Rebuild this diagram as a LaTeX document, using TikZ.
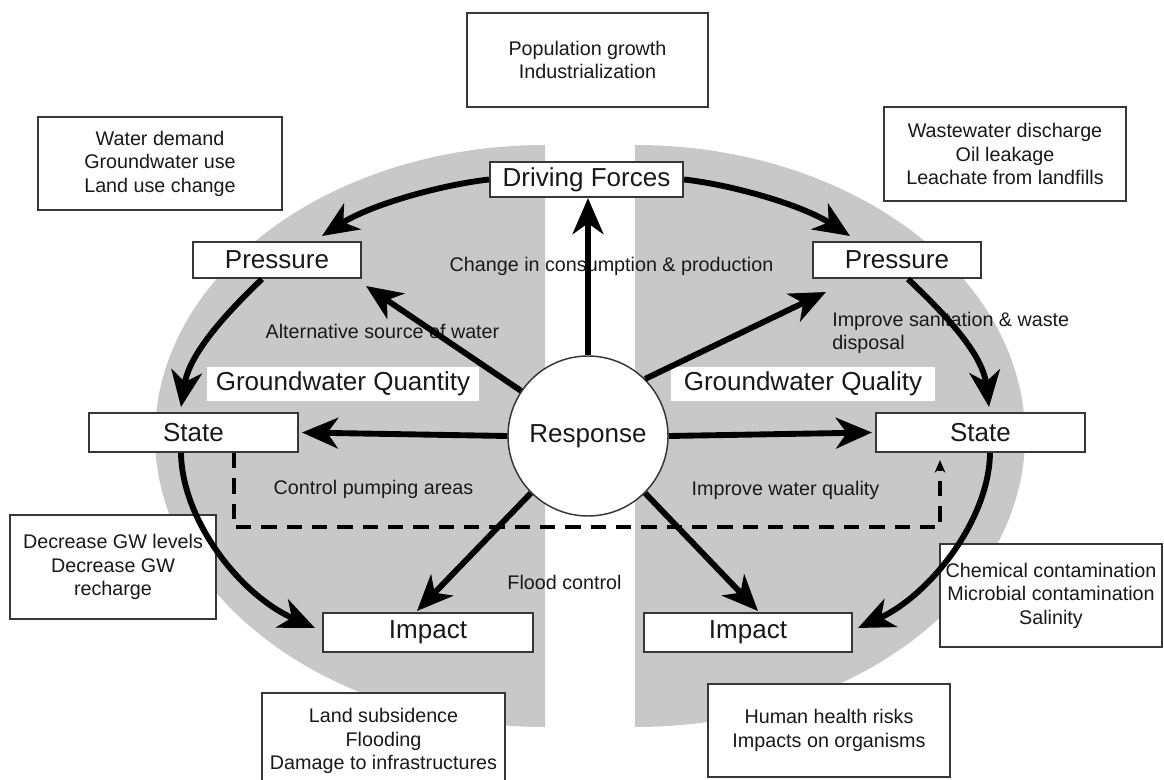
\documentclass[tikz,border=0pt]{standalone}
\usepackage{fontspec}
\setmainfont{Liberation Sans}
\usetikzlibrary{arrows.meta,calc}
\definecolor{halo}{RGB}{200,200,200}
\definecolor{edge}{RGB}{55,55,55}
\definecolor{ink}{RGB}{25,25,25}
\begin{document}
\begin{tikzpicture}[x=0.75pt,y=-0.75pt,
  stage/.style={draw=edge, line width=1.5pt, fill=white, text=ink,
    font=\fontsize{19.5}{23}\selectfont, inner sep=0pt},
  note/.style={draw=edge, line width=1.4pt, fill=white, text=ink, align=center,
    font=\fontsize{14.8}{17.6}\selectfont, inner sep=0pt},
  tag/.style={text=ink, font=\fontsize{14.8}{17.6}\selectfont, inner sep=0pt},
  heading/.style={fill=white, text=ink, font=\fontsize{19.5}{23}\selectfont, inner sep=0pt},
  flow/.style={draw=black, line width=4.4pt, -{Stealth[length=27pt,width=23pt,inset=8pt]}},
  dashflow/.style={draw=black, line width=2.8pt, dash pattern=on 11.5pt off 7.5pt,
    -{Stealth[length=9.5pt,width=8pt]}},
]
\useasboundingbox (0,0) rectangle (1164,780);
\clip (0,0) rectangle (1164,780);

% the two grey half-ellipses: quantity (left) and quality (right)
\fill[halo] (545,145) arc[start angle=270, end angle=90, x radius=390, y radius=291] -- cycle;
\fill[halo] (635,145) arc[start angle=-90, end angle=90, x radius=390, y radius=291] -- cycle;

% explanatory boxes
\node[note, minimum width=180.75pt, minimum height=70.5pt] (drivers) at (587.5,60) {Population growth\\Industrialization};
\node[note, minimum width=183pt, minimum height=69.75pt] (qtydrv) at (160,163.5) {Water demand\\Groundwater use\\Land use change};
\node[note, minimum width=181.5pt, minimum height=70.5pt] (qlydrv) at (1005,154) {Wastewater discharge\\Oil leakage\\Leachate from landfills};
\node[note, minimum width=154.5pt, minimum height=78pt] (qtystate) at (113,567) {Decrease GW levels\\Decrease GW\\recharge};
\node[note, minimum width=166.5pt, minimum height=77.25pt] (qlystate) at (1051,595.5) {Chemical contamination\\Microbial contamination\\Salinity};
\node[note, minimum width=182.25pt, minimum height=72pt] (qtyimp) at (383.5,741) {Land subsidence\\Flooding\\Damage to infrastructures};
\node[note, minimum width=181.5pt, minimum height=69.75pt] (qlyimp) at (829,730.5) {Human health risks\\Impacts on organisms};

% DPSIR stages
\node[stage, minimum width=144.75pt, minimum height=26.25pt] (df) at (586.5,179.5) {Driving Forces};
\node[stage, minimum width=126pt, minimum height=27pt] (pl) at (277,260) {Pressure};
\node[stage, minimum width=126pt, minimum height=27pt] (pr) at (897,260) {Pressure};
\node[stage, minimum width=156.75pt, minimum height=29.25pt] (sl) at (193.5,432.5) {State};
\node[stage, minimum width=156.75pt, minimum height=29.25pt] (sr) at (980.5,432.5) {State};
\node[stage, minimum width=157.5pt, minimum height=29.25pt] (il) at (428,632.5) {Impact};
\node[stage, minimum width=156pt, minimum height=29.25pt] (ir) at (748,632.5) {Impact};
\node[draw=edge, line width=1.1pt, fill=white, circle, minimum size=120pt, inner sep=0pt,
  text=ink, font=\fontsize{19.5}{23}\selectfont] (resp) at (588,436) {Response};

% headings of the two halves
\node[heading, minimum width=204pt, minimum height=25.5pt] (hqty) at (343,384) {Groundwater Quantity};
\node[heading, minimum width=198pt, minimum height=25.5pt] (hqly) at (803,384) {Groundwater Quality};

% response measures
\node[tag] (lcp) at (611.5,266) {Change in consumption \& production};
\node[tag] (las) at (382.5,331) {Alternative source of water};
\node[tag, align=left, anchor=west] (lis) at (832,333) {Improve sanitation \& waste\\disposal};
\node[tag] (lcpa) at (373.5,489) {Control pumping areas};
\node[tag] (liwq) at (785.5,490) {Improve water quality};
\node[tag] (lfc) at (564.5,582) {Flood control};

% feedback from quantity state to quality state
\draw[dashflow] ($(sl.south)+(40.5,0)$) |- ($(sr.south)+(-40.5,74)$) -- ($(sr.south)+(-40.5,7)$);

% causal chain around each half
\draw[flow] (df.west) .. controls (440,185) and (370,205) .. ($(pl.north)+(45,-5)$);
\draw[flow] (df.east) .. controls (733,185) and (802,205) .. ($(pr.north)+(-47,-5)$);
\draw[flow] ($(pl.south)+(-15,0)$) .. controls (235,305) and (190,350) .. ($(sl.north)+(-12.5,-5)$);
\draw[flow] ($(pr.south)+(11,0)$) .. controls (935,305) and (982,350) .. ($(sr.north)+(8.5,-5)$);
\draw[flow] ($(sl.south)+(-12.5,0)$) .. controls (182,520) and (240,595) .. ($(il.west)+(-7,-4.5)$);
\draw[flow] ($(sr.south)+(9.5,0)$) .. controls (989,520) and (930,595) .. ($(ir.east)+(5,-4.5)$);

% responses acting on every stage
\draw[flow] (resp.north) -- (resp.north |- df.south);
\draw[flow] (resp.146) -- ($(pl.south east)+(4,7)$);
\draw[flow] (resp.45) -- ($(pr.south west)+(14,13)$);
\draw[flow] (resp.west) -- ($(sl.east)+(3,0)$);
\draw[flow] (resp.east) -- ($(sr.west)+(-3,0)$);
\draw[flow] (resp.225) -- ($(il.north)+(-11,-1)$);
\draw[flow] (resp.-45) -- ($(ir.north)+(10,-1)$);
\end{tikzpicture}
\end{document}
